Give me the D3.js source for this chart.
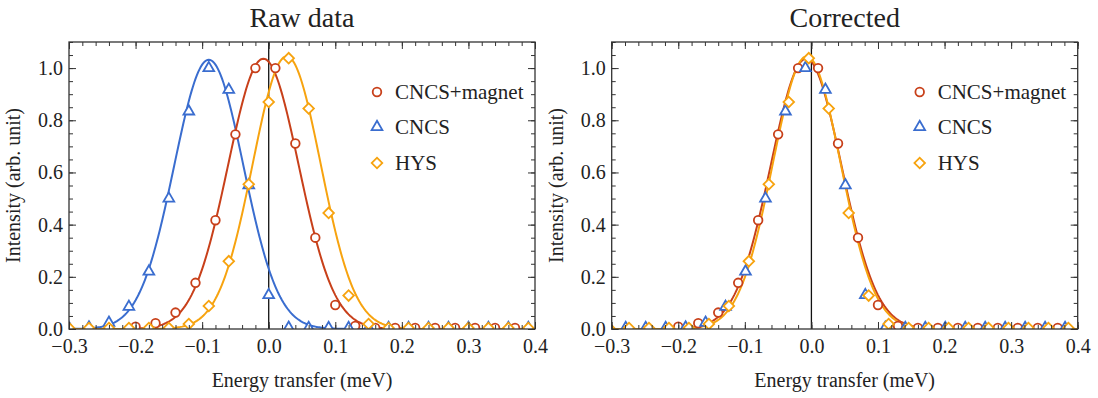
<!DOCTYPE html>
<html>
<head>
<meta charset="utf-8">
<script src="https://cdn.jsdelivr.net/npm/d3@7"></script>
<style>
  body { margin: 0; background: #fff; }
  svg text { font-family: "Liberation Serif", "Times New Roman", serif !important; fill: #222; }
</style>
</head>
<body>
<div id="chart"></div>
<script>
// Axis ticks
const xTicks = [-0.3, -0.2, -0.1, 0.0, 0.1, 0.2, 0.3, 0.4];
const yTicks = [0.0, 0.2, 0.4, 0.6, 0.8, 1.0];

// CNCS+magnet (same in both panels)
const redX = [-0.20, -0.17, -0.14, -0.11, -0.08, -0.05, -0.02, 0.01, 0.04, 0.07, 0.10, 0.13,
  0.16, 0.19, 0.22, 0.25, 0.28, 0.31, 0.34, 0.37];
const redY = [0.009, 0.022, 0.063, 0.177, 0.417, 0.746, 1.0, 1.0, 0.711, 0.35, 0.092, 0.012,
  0.004, 0.004, 0.004, 0.004, 0.004, 0.004, 0.004, 0.004];

// CNCS
const blueX = [-0.36, -0.33, -0.30, -0.27, -0.24, -0.21, -0.18, -0.15, -0.12, -0.09, -0.06, -0.03,
  0.00, 0.03, 0.06, 0.09, 0.12, 0.15, 0.18, 0.21, 0.24, 0.27, 0.30, 0.33, 0.36, 0.39];
const blueCorrX = [-0.279, -0.249, -0.219, -0.189, -0.159, -0.129, -0.099, -0.069, -0.039, -0.009,
  0.021, 0.051, 0.081, 0.111, 0.141, 0.171, 0.201, 0.231, 0.261, 0.291, 0.321, 0.351, 0.381,
  0.411, 0.441, 0.471];
const blueY = [0.004, 0.004, 0.004, 0.006, 0.024, 0.085, 0.22, 0.50, 0.834, 1.0, 0.917, 0.551,
  0.13, 0.005, 0.004, 0.004, 0.004, 0.004, 0.004, 0.004, 0.004, 0.004, 0.004, 0.004, 0.004, 0.004];

// HYS
const orangeX = [-0.30, -0.27, -0.24, -0.21, -0.18, -0.15, -0.12, -0.09, -0.06, -0.03, 0.00, 0.03,
  0.06, 0.09, 0.12, 0.15, 0.18, 0.21, 0.24, 0.27, 0.30, 0.33, 0.36, 0.39, 0.42];
const orangeCorrX = [-0.334, -0.304, -0.274, -0.244, -0.214, -0.184, -0.154, -0.124, -0.094, -0.064,
  -0.034, -0.004, 0.026, 0.056, 0.086, 0.116, 0.146, 0.176, 0.206, 0.236, 0.266, 0.296, 0.326,
  0.356, 0.386];
const orangeY = [0.004, 0.004, 0.004, 0.004, 0.004, 0.004, 0.019, 0.088, 0.26, 0.555, 0.87, 1.038,
  0.845, 0.445, 0.128, 0.019, 0.004, 0.004, 0.004, 0.004, 0.004, 0.004, 0.004, 0.004, 0.004];

// Gaussian fit parameters: [amplitude, centre, sigma]
const redFit = [1.036, -0.008, 0.053];
const blueFit = [1.032, -0.090, 0.052];
const orangeFit = [1.045, 0.027, 0.051];
const orangeCorrFit = [1.045, -0.007, 0.051];

const seriesNames = ["CNCS+magnet", "CNCS", "HYS"];
const colors = {red: "#c8401a", blue: "#3a6dcf", orange: "#f7a30f"};

const W = 1098, H = 398;
const serif = "'Liberation Serif', 'Times New Roman', serif";
const svg = d3.select("#chart").append("svg")
  .attr("width", W).attr("height", H)
  .attr("font-family", serif);

const symTri = d3.symbol().type(d3.symbolTriangle).size(50);
const symSq = d3.symbol().type(d3.symbolSquare).size(56);

function marker(g, kind, color, x, y) {
  if (kind === "circle") {
    g.append("circle").attr("cx", x).attr("cy", y).attr("r", 4.3)
      .attr("fill", "#fff").attr("stroke", color).attr("stroke-width", 1.8);
  } else if (kind === "triangle") {
    g.append("path").attr("d", symTri()).attr("transform", `translate(${x},${y})`)
      .attr("fill", "#fff").attr("stroke", color).attr("stroke-width", 1.8);
  } else {
    g.append("path").attr("d", symSq()).attr("transform", `translate(${x},${y}) rotate(45)`)
      .attr("fill", "#fff").attr("stroke", color).attr("stroke-width", 1.8);
  }
}

function drawPanel(id, left, title, curves, points) {
  const top = 42, bottom = 329, width = 466;
  const x = d3.scaleLinear().domain([-0.3, 0.4]).range([left, left + width]);
  const y = d3.scaleLinear().domain([0, 1.1]).range([bottom, top]);

  const g = svg.append("g");

  // clip to the frame
  g.append("clipPath").attr("id", "clip" + id)
    .append("rect").attr("x", left).attr("y", top)
    .attr("width", width).attr("height", bottom - top);

  const plot = g.append("g").attr("clip-path", `url(#clip${id})`);

  // zero line
  plot.append("line")
    .attr("x1", x(0)).attr("x2", x(0)).attr("y1", top).attr("y2", bottom)
    .attr("stroke", "#111").attr("stroke-width", 1.3);

  // fit curves
  const xs = d3.range(-0.3, 0.4001, 0.002);
  const line = d3.line().x(d => x(d[0])).y(d => y(d[1]));
  curves.forEach(c => {
    const [a, m, s] = c.fit;
    const pts = xs.map(v => [v, a * Math.exp(-(v - m) * (v - m) / (2 * s * s))]);
    plot.append("path").attr("d", line(pts))
      .attr("fill", "none").attr("stroke", c.color).attr("stroke-width", 2);
  });

  // data points
  points.forEach(p => {
    const mg = plot.append("g");
    p.xs.forEach((v, i) => marker(mg, p.kind, p.color, x(v), y(p.ys[i])));
  });

  // axes: major and minor ticks, all pointing inwards
  const fmt = d3.format(".1f");
  const minorX = d3.range(-0.3, 0.4001, 0.02);
  const minorY = d3.range(0, 1.1001, 0.05);

  g.append("g").attr("transform", `translate(0,${bottom})`)
    .call(d3.axisBottom(x).tickValues(xTicks).tickFormat(fmt).tickSize(-7).tickPadding(10));
  g.append("g").attr("transform", `translate(0,${bottom})`)
    .call(d3.axisBottom(x).tickValues(minorX).tickFormat("").tickSize(-4));
  g.append("g").attr("transform", `translate(0,${top})`)
    .call(d3.axisTop(x).tickValues(xTicks).tickFormat("").tickSize(-7));
  g.append("g").attr("transform", `translate(0,${top})`)
    .call(d3.axisTop(x).tickValues(minorX).tickFormat("").tickSize(-4));
  g.append("g").attr("transform", `translate(${left},0)`)
    .call(d3.axisLeft(y).tickValues(yTicks).tickFormat(fmt).tickSize(-7).tickPadding(6));
  g.append("g").attr("transform", `translate(${left},0)`)
    .call(d3.axisLeft(y).tickValues(minorY).tickFormat("").tickSize(-4));
  g.append("g").attr("transform", `translate(${left + width},0)`)
    .call(d3.axisRight(y).tickValues(yTicks).tickFormat("").tickSize(-7));
  g.append("g").attr("transform", `translate(${left + width},0)`)
    .call(d3.axisRight(y).tickValues(minorY).tickFormat("").tickSize(-4));

  g.selectAll("g").attr("font-family", serif).attr("font-size", 20);
  g.selectAll(".domain").remove();
  g.selectAll(".tick line").attr("stroke", "#333").attr("stroke-width", 1);
  g.selectAll(".tick text").attr("fill", "#222");

  // frame
  g.append("rect").attr("x", left).attr("y", top)
    .attr("width", width).attr("height", bottom - top)
    .attr("fill", "none").attr("stroke", "#333").attr("stroke-width", 1.3);

  // titles and labels
  g.append("text").attr("x", left + width / 2).attr("y", 27)
    .attr("text-anchor", "middle").attr("font-size", 28).text(title);
  g.append("text").attr("x", left + width / 2).attr("y", 387)
    .attr("text-anchor", "middle").attr("font-size", 20).text("Energy transfer (meV)");
  g.append("text")
    .attr("transform", `translate(${left - 49},${(top + bottom) / 2}) rotate(-90)`)
    .attr("text-anchor", "middle").attr("font-size", 20).text("Intensity (arb. unit)");

  // legend
  const kinds = ["circle", "triangle", "diamond"];
  const legColors = [colors.red, colors.blue, colors.orange];
  const rows = [92, 127, 163];
  seriesNames.forEach((name, i) => {
    marker(g, kinds[i], legColors[i], left + 308, rows[i]);
    g.append("text").attr("x", left + 326).attr("y", rows[i]).attr("dy", "0.35em")
      .attr("font-size", 21).text(name);
  });
}

drawPanel("raw", 69, "Raw data",
  [
    {fit: blueFit, color: colors.blue},
    {fit: redFit, color: colors.red},
    {fit: orangeFit, color: colors.orange}
  ],
  [
    {xs: redX, ys: redY, kind: "circle", color: colors.red},
    {xs: blueX, ys: blueY, kind: "triangle", color: colors.blue},
    {xs: orangeX, ys: orangeY, kind: "diamond", color: colors.orange}
  ]);

drawPanel("corr", 611.7, "Corrected",
  [
    {fit: redFit, color: colors.red},
    {fit: orangeCorrFit, color: colors.orange}
  ],
  [
    {xs: redX, ys: redY, kind: "circle", color: colors.red},
    {xs: blueCorrX, ys: blueY, kind: "triangle", color: colors.blue},
    {xs: orangeCorrX, ys: orangeY, kind: "diamond", color: colors.orange}
  ]);
</script>
</body>
</html>
